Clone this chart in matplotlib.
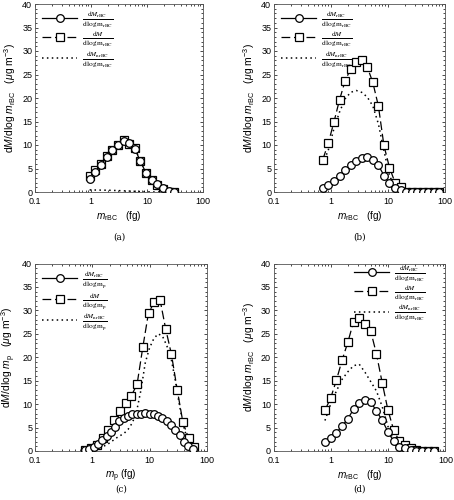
import numpy as np
import matplotlib
matplotlib.use('Agg')
import matplotlib.pyplot as plt
from matplotlib.ticker import FuncFormatter, MultipleLocator, LogLocator
from matplotlib.font_manager import FontProperties

# ---------------- data ----------------
# panel (a)
xa = np.logspace(-0.024, 1.49, 16)
a_rbc = [2.8, 4.2, 5.7, 7.4, 8.9, 9.9, 10.8, 10.4, 9.2, 6.5, 4.0, 2.6, 1.6, 0.85, 0.15, 0.0]
a_tot = [3.3, 4.6, 5.9, 7.6, 9.0, 10.0, 11.0, 10.2, 9.3, 6.6, 4.0, 2.6, 1.5, 0.6, 0.1, 0.05]
a_nrbc = [0.45, 0.42, 0.4, 0.38, 0.35, 0.3, 0.25, 0.2, 0.15, 0.1, 0.05, 0.02, 0.0, 0.0, 0.0, 0.0]

# panel (b)
xb = np.logspace(-0.143, 1.903, 22)
b_rbc = [0.85, 1.55, 2.4, 3.3, 4.6, 5.7, 6.65, 7.2, 7.4, 6.9, 5.7, 3.5, 1.9, 0.85, 0.35, 0.1,
         0, 0, 0, 0, 0, 0]
b_tot = [6.9, 10.5, 14.9, 19.6, 23.6, 26.2, 27.7, 28.1, 26.6, 23.3, 18.3, 9.9, 5.2, 2.0, 1.1, 0.1,
         0, 0, 0, 0, 0, 0]
b_nrbc = [6.0, 9.0, 13.5, 17.0, 19.8, 21.2, 21.6, 21.2, 20.2, 18.3, 14.5, 8.8, 3.5, 0.9, 0.3, 0.1,
          0, 0, 0, 0, 0, 0]

# panel (c): circles/dotted on a finer grid than the squares
xc = np.logspace(-0.127, 1.748, 26)
c_rbc = [0.2, 0.4, 0.9, 1.5, 2.3, 3.3, 4.1, 5.2, 6.3, 7.0, 7.5, 7.8, 7.9, 8.0, 8.2, 8.0, 7.8, 7.5,
         7.0, 6.3, 5.5, 4.5, 3.4, 2.0, 1.1, 0.4]
c_nrbc = [0.1, 0.2, 0.35, 0.6, 0.9, 1.3, 1.9, 2.6, 3.2, 3.7, 4.6, 6.0, 8.5, 13.0, 18.8, 22.0, 24.0,
          25.0, 24.5, 22.5, 19.8, 15.0, 9.5, 5.0, 1.8, 0.5]
xc_sq = np.logspace(-0.12, 1.78, 20)
c_tot = [0.2, 0.6, 1.3, 2.8, 4.5, 6.7, 8.5, 10.2, 11.8, 14.2, 22.1, 29.5, 31.7, 32.3, 26.0, 20.6,
         13.1, 6.1, 2.7, 0.8]

# panel (d)
xd = np.logspace(-0.105, 1.795, 20)
d_rbc = [1.85, 2.8, 3.9, 5.3, 6.9, 8.9, 10.2, 10.9, 10.5, 8.5, 6.6, 4.1, 2.1, 0.9, 0.55, 0.2, 0.05,
         0, 0, 0]
d_tot = [8.7, 11.3, 15.1, 19.4, 23.2, 27.6, 28.3, 27.1, 25.6, 20.7, 14.6, 8.8, 4.5, 2.1, 1.2, 0.7,
         0.3, 0, 0, 0]
d_nrbc = [6.5, 10.0, 12.8, 15.3, 16.9, 18.2, 18.5, 16.8, 14.8, 12.8, 9.5, 5.3, 2.2, 0.6, 0.2, 0,
          0, 0, 0, 0]

lab_rbc = [r'$\frac{\mathrm{d}M_{\mathrm{rBC}}}{\mathrm{d\,log\,m_{rBC}}}$',
           r'$\frac{\mathrm{d}M}{\mathrm{d\,log\,m_{rBC}}}$',
           r'$\frac{\mathrm{d}M_{\mathrm{nrBC}}}{\mathrm{d\,log\,m_{rBC}}}$']
lab_p = [r'$\frac{\mathrm{d}M_{\mathrm{rBC}}}{\mathrm{d\,log\,m_{p}}}$',
         r'$\frac{\mathrm{d}M}{\mathrm{d\,log\,m_{p}}}$',
         r'$\frac{\mathrm{d}M_{\mathrm{nrBC}}}{\mathrm{d\,log\,m_{p}}}$']

ylab_rbc = r'd$M$/dlog $m_{\mathrm{rBC}}$   ($\mu$g m$^{-3}$)'
ylab_p = r'd$M$/dlog $m_{\mathrm{p}}$   ($\mu$g m$^{-3}$)'
xlab_rbc = r'$m_{\mathrm{rBC}}$   (fg)'
xlab_p = r'$m_{\mathrm{p}}$ (fg)'

plt.rcParams['font.family'] = ['Liberation Sans', 'DejaVu Sans']
plt.rcParams['mathtext.fontset'] = 'custom'
plt.rcParams['mathtext.rm'] = 'Liberation Sans'
plt.rcParams['mathtext.it'] = 'Liberation Sans:italic'

fig = plt.figure(figsize=(4.54, 5.0), dpi=100)

boxes = {'a': [0.077, 0.616, 0.370, 0.376],
         'b': [0.6035, 0.616, 0.3767, 0.376],
         'c': [0.077, 0.098, 0.379, 0.375],
         'd': [0.603, 0.098, 0.378, 0.375]}
cap_y = {'a': 0.526, 'b': 0.526, 'c': 0.022, 'd': 0.022}

def panel(key, xr, rbc, xt, tot, xn, nrbc, labels, xlab, ylab, loc, anchor):
    ax = fig.add_axes(boxes[key])
    l1, = ax.plot(xr, rbc, '-', color='k', lw=0.9, marker='o', ms=5.5, mfc='white',
                  mec='k', mew=0.9, zorder=3)
    l2, = ax.plot(xt, tot, color='k', lw=0.9, ls=(0, (7, 3)), marker='s', ms=5.5,
                  mfc='white', mec='k', mew=0.9, zorder=2)
    l3, = ax.plot(xn, nrbc, color='k', lw=1.1, ls=(0, (1, 2.2)), zorder=1)
    ax.set_xscale('log')
    ax.set_xlim(0.1, 100)
    ax.set_ylim(0, 40)
    ax.yaxis.set_major_locator(MultipleLocator(5))
    ax.yaxis.set_minor_locator(MultipleLocator(1))
    ax.xaxis.set_minor_locator(LogLocator(subs=np.arange(2, 10)))
    ax.xaxis.set_major_formatter(FuncFormatter(lambda v, p: '%g' % v))
    ax.tick_params(which='both', direction='in', top=True, right=True, labelsize=6.5,
                   width=0.5)
    ax.tick_params(axis='x', pad=3.5)
    ax.tick_params(axis='y', pad=2)
    ax.tick_params(which='major', length=2.5)
    ax.tick_params(which='minor', length=1.2)
    for s in ax.spines.values():
        s.set_linewidth(0.6)
        s.set_color('#555555')
    ax.set_xlabel(xlab, fontsize=7.2, labelpad=2)
    ax.set_ylabel(ylab, fontsize=7.5, labelpad=3)
    fp = FontProperties(family='DejaVu Serif', size=7.6, math_fontfamily='stix')
    ax.legend([l1, l2, l3], labels, loc=loc, bbox_to_anchor=anchor, frameon=False,
              prop=fp, handlelength=3.3, labelspacing=0.0, borderaxespad=0.0,
              borderpad=0.2, handletextpad=0.5)
    bb = boxes[key]
    fig.text(bb[0] + bb[2] / 2, cap_y[key], '(%s)' % key, ha='center', va='center',
             fontsize=6.3, family='DejaVu Serif')
    return ax

panel('a', xa, a_rbc, xa, a_tot, xa, a_nrbc, lab_rbc, xlab_rbc, ylab_rbc,
      'upper left', (0.03, 0.98))
panel('b', xb, b_rbc, xb, b_tot, xb, b_nrbc, lab_rbc, xlab_rbc, ylab_rbc,
      'upper left', (0.03, 0.98))
panel('c', xc, c_rbc, xc_sq, c_tot, xc, c_nrbc, lab_p, xlab_p, ylab_p,
      'upper left', (0.03, 0.98))
panel('d', xd, d_rbc, xd, d_tot, xd, d_nrbc, lab_rbc, xlab_rbc, ylab_rbc,
      'upper right', (0.9, 1.01))

fig.savefig('out.png', dpi=100)
